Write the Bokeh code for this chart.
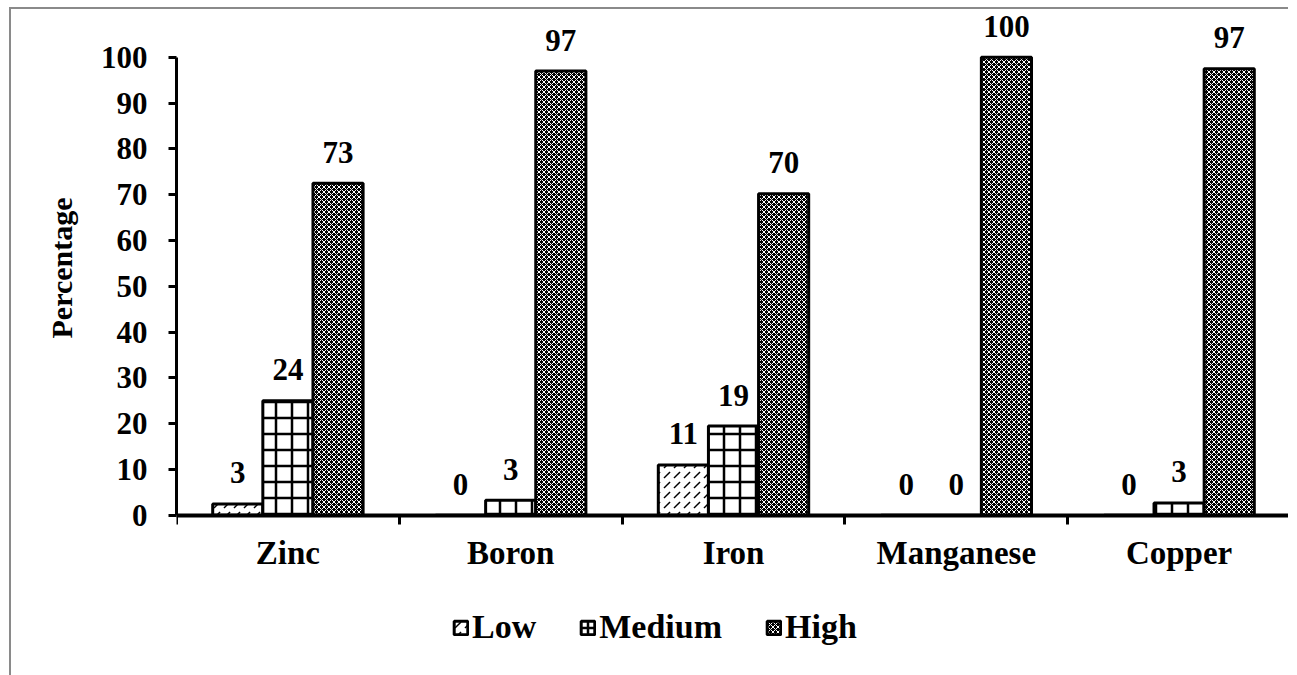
from bokeh.plotting import figure
from bokeh.models import Range1d, FixedTicker, Legend, LegendItem, ColumnDataSource, Title
from bokeh.core.properties import value
from bokeh.embed import file_html
from bokeh.resources import INLINE

categories = ["Zinc", "Boron", "Iron", "Manganese", "Copper"]
series = ["Low", "Medium", "High"]
low = [2.5, 0, 11, 0, 0]
medium = [25, 3.3, 19.5, 0, 2.7]
high = [72.5, 97, 70.2, 100, 97.5]
low_labels = ["3", "0", "11", "0", "0"]
medium_labels = ["24", "3", "19", "0", "3"]
high_labels = ["73", "97", "70", "100", "97"]
y_ticks = [0, 10, 20, 30, 40, 50, 60, 70, 80, 90, 100]

FONT = "Liberation Serif"

p = figure(width=1279, height=668, output_backend="svg", toolbar_location=None,
           x_range=Range1d(0, len(categories)), y_range=Range1d(-35.4, 110),
           min_border_left=165, min_border_right=0, min_border_top=2,
           min_border_bottom=0)
p.margin = (7, 0, 0, 9)
p.outline_line_color = None
p.grid.visible = False
p.background_fill_color = "white"
p.border_fill_color = "white"
p.styles = {"border-left": "2px solid #8a8a8a", "border-top": "2px solid #8a8a8a"}

# y axis
ya = p.yaxis[0]
ya.bounds = (0, 100)
ya.ticker = FixedTicker(ticks=y_ticks)
ya.axis_line_width = 3
ya.major_tick_line_width = 3
ya.major_tick_out = 8
ya.major_tick_in = 0
ya.minor_tick_line_color = None
ya.major_label_standoff = 21
ya.major_label_text_font = FONT
ya.major_label_text_font_style = "bold"
ya.major_label_text_font_size = "31px"
ya.major_label_text_color = "black"

p.add_layout(Title(text="Percentage", align="left", offset=339, standoff=40,
                   text_font=FONT, text_font_style="bold", text_font_size="30px",
                   text_color="black"), "left")

# x axis at y = 0: labels at category centres, ticks at boundaries
xa = p.xaxis[0]
xa.fixed_location = 0
centers = [i + 0.5 for i in range(len(categories))]
xa.ticker = FixedTicker(ticks=centers, minor_ticks=list(range(len(categories) + 1)))
xa.major_label_overrides = {c: name for c, name in zip(centers, categories)}
xa.major_tick_line_color = None
xa.major_tick_out = 0
xa.major_tick_in = 0
xa.minor_tick_out = 9
xa.minor_tick_in = 0
xa.minor_tick_line_width = 3
xa.axis_line_width = 4
xa.major_label_standoff = 11
xa.major_label_text_font = FONT
xa.major_label_text_font_style = "bold"
xa.major_label_text_font_size = "33px"
xa.major_label_text_color = "black"

bar_w = 0.225
offsets = [-bar_w, 0, bar_w]
styles = [
    dict(fill_color="white", hatch_pattern="right_diagonal_dash", hatch_color="black",
         hatch_scale=10, hatch_weight=1.5),
    dict(fill_color="white", hatch_pattern="cross", hatch_color="black",
         hatch_scale=16, hatch_weight=2.5),
    dict(fill_color="black", hatch_pattern="diagonal_cross", hatch_color="white",
         hatch_scale=5, hatch_weight=1),
]
renderers = []
for vals, labs, off, st in zip([low, medium, high], [low_labels, medium_labels, high_labels],
                               offsets, styles):
    src = ColumnDataSource(dict(x=[c + off for c in centers], top=vals, lab=labs))
    r = p.vbar(x="x", top="top", width=bar_w, source=src, line_color="black",
               line_width=3, **st)
    renderers.append(r)
    p.text(x="x", y="top", text="lab", source=src, y_offset=-31,
           text_align="center", text_baseline="alphabetic",
           text_font=value(FONT), text_font_style="bold", text_font_size="31px",
           text_color="black")

legend = Legend(items=[LegendItem(label=s, renderers=[r]) for s, r in zip(series, renderers)],
                orientation="horizontal", location=(276, 31),
                glyph_width=17, glyph_height=17, label_standoff=3, spacing=43,
                padding=0, margin=0, border_line_color=None, background_fill_alpha=0,
                label_text_font=FONT, label_text_font_style="bold",
                label_text_font_size="34px", label_text_color="black")
p.add_layout(legend)

open("out.html", "w").write(file_html(p, INLINE))
